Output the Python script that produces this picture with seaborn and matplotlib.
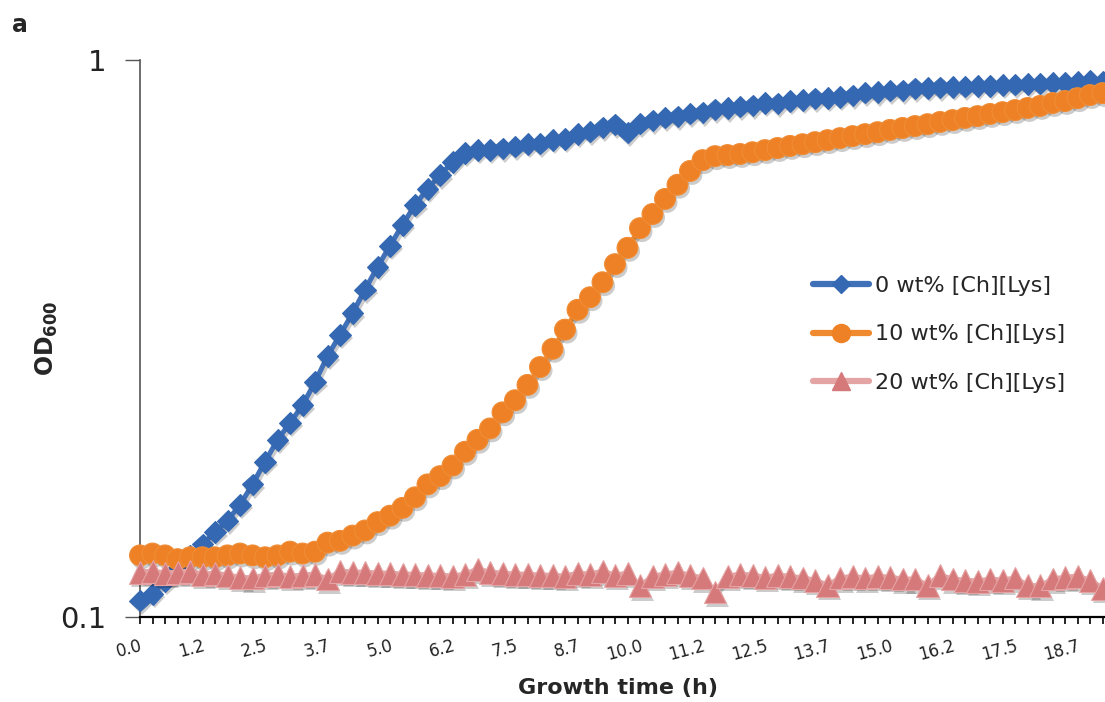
import numpy as np
import pandas as pd
import matplotlib
matplotlib.use("Agg")
import matplotlib.pyplot as plt
import matplotlib.patheffects as pe
from matplotlib.lines import Line2D
from matplotlib.ticker import FixedLocator, MultipleLocator, NullLocator
import seaborn as sns

# Sampling every 15 min over the growth run
time_h = np.arange(78) * 0.25

od_0wt = [0.107, 0.110, 0.116, 0.122, 0.129, 0.135, 0.142, 0.149, 0.159, 0.173,
          0.190, 0.208, 0.223, 0.240, 0.264, 0.294, 0.321, 0.351, 0.387, 0.425,
          0.464, 0.506, 0.549, 0.587, 0.621, 0.656, 0.681, 0.689,
          0.690, 0.694, 0.699, 0.706, 0.708, 0.719, 0.722, 0.737, 0.744, 0.757,
          0.766, 0.741, 0.769, 0.779, 0.788, 0.792, 0.801, 0.805, 0.815, 0.819,
          0.825, 0.829, 0.838, 0.836, 0.845, 0.847, 0.853, 0.854, 0.859, 0.864,
          0.874, 0.875, 0.881, 0.882, 0.889, 0.890, 0.893, 0.894, 0.896, 0.898,
          0.899, 0.901, 0.903, 0.905, 0.907, 0.909, 0.911, 0.914, 0.918, 0.913]

od_10wt = [0.129, 0.130, 0.129, 0.127, 0.128, 0.128, 0.128, 0.129, 0.130, 0.129,
           0.128, 0.129, 0.131, 0.130, 0.131, 0.136, 0.137, 0.140, 0.143, 0.148,
           0.152, 0.157, 0.164, 0.173, 0.179, 0.187, 0.198, 0.208, 0.218, 0.233,
           0.245, 0.261, 0.281, 0.303, 0.328, 0.356, 0.375, 0.399, 0.430, 0.460,
           0.499, 0.529, 0.563, 0.597, 0.632, 0.661, 0.672, 0.675,
           0.678, 0.683, 0.689, 0.695, 0.701, 0.706, 0.712, 0.718, 0.724, 0.730,
           0.736, 0.742, 0.749, 0.755, 0.761, 0.767, 0.774, 0.780, 0.787, 0.793,
           0.800, 0.806, 0.813, 0.820, 0.827, 0.837, 0.844, 0.854, 0.865, 0.872]

od_20wt = [0.1204, 0.1209, 0.1199, 0.1204, 0.1209, 0.1194, 0.1199, 0.1189, 0.1179, 0.1175,
           0.1189, 0.1194, 0.1184, 0.1189, 0.1194, 0.1170, 0.1209, 0.1204, 0.1204, 0.1199,
           0.1199, 0.1194, 0.1194, 0.1189, 0.1189, 0.1184, 0.1194, 0.1219, 0.1204, 0.1199,
           0.1194, 0.1194, 0.1189, 0.1189, 0.1184, 0.1199, 0.1194, 0.1209, 0.1189, 0.1199,
           0.1137, 0.1184, 0.1194, 0.1204, 0.1189, 0.1175, 0.1109, 0.1184, 0.1194, 0.1189,
           0.1179, 0.1189, 0.1184, 0.1175, 0.1165, 0.1141, 0.1175, 0.1184, 0.1175, 0.1184,
           0.1179, 0.1170, 0.1170, 0.1141, 0.1189, 0.1170, 0.1165, 0.1160, 0.1170, 0.1165,
           0.1175, 0.1141, 0.1137, 0.1170, 0.1179, 0.1184, 0.1165, 0.1127]

series_names = ["0 wt% [Ch][Lys]", "10 wt% [Ch][Lys]", "20 wt% [Ch][Lys]"]
tick_labels = ["0.0", "1.2", "2.5", "3.7", "5.0", "6.2", "7.5", "8.7",
               "10.0", "11.2", "12.5", "13.7", "15.0", "16.2", "17.5", "18.7"]

df = pd.DataFrame({
    "time": np.tile(time_h, 3),
    "od": od_0wt + od_10wt + od_20wt,
    "series": np.repeat(series_names, len(time_h)),
})

styles = {
    series_names[0]: dict(line="#3f70b8", face="#3568b2", edge="#3568b2", marker="D", ms=11.0, lg=9.0),
    series_names[1]: dict(line="#ef8a2e", face="#ee8125", edge="#f08d36", marker="o", ms=15.0, lg=13.0),
    series_names[2]: dict(line="#e4a4a4", face="#d5797b", edge="#e6a3a3", marker="^", ms=16.5, lg=13.5),
}

sns.set_theme(style="ticks")
plt.rcParams["font.family"] = ["DejaVu Sans"]
plt.rcParams["mathtext.fontset"] = "dejavusans"

fig = plt.figure(figsize=(11.05, 7.02), dpi=100)
ax = fig.add_axes([140 / 1105, 85 / 702, 965 / 1105, 557 / 702])

line_shadow = [pe.SimpleLineShadow(offset=(1.5, -2), shadow_color="k", alpha=0.22), pe.Normal()]
mark_shadow = [pe.SimplePatchShadow(offset=(1.5, -2.5), shadow_rgbFace="k", alpha=0.22), pe.Normal()]

for k, name in enumerate(series_names):
    st = styles[name]
    sub = df[df["series"] == name]
    sns.lineplot(data=sub, x="time", y="od", ax=ax, color=st["line"], lw=3.6,
                 estimator=None, sort=False, legend=False, zorder=2 + 2 * k,
                 path_effects=line_shadow)
    sns.lineplot(data=sub, x="time", y="od", ax=ax, color=st["face"], linestyle="",
                 marker=st["marker"], markersize=st["ms"], markerfacecolor=st["face"],
                 markeredgecolor=st["edge"], markeredgewidth=0.8,
                 estimator=None, sort=False, legend=False, zorder=3 + 2 * k,
                 path_effects=mark_shadow)

for ln in ax.get_lines():
    ln.set_clip_on(False)

ax.set_yscale("log")
ax.set_ylim(0.1, 1)
ax.set_xlim(0, 19.3)

ax.yaxis.set_major_locator(FixedLocator([0.1, 1]))
ax.yaxis.set_minor_locator(NullLocator())
ax.set_yticklabels(["0.1", "1"])
ax.xaxis.set_major_locator(FixedLocator(time_h[::5][:len(tick_labels)]))
ax.xaxis.set_minor_locator(MultipleLocator(0.25))
ax.set_xticklabels(tick_labels, rotation=15, ha="right", va="top", rotation_mode="anchor",
                   fontsize=12, color="#222222")

ax.tick_params(axis="x", which="both", direction="out", length=5, width=1.2, color="black", pad=9)
ax.tick_params(axis="y", which="major", direction="out", length=11, width=1.0,
               color="#555555", labelsize=21, pad=13, labelcolor="#222222")

for side in ("top", "right"):
    ax.spines[side].set_visible(False)
ax.spines["left"].set_color("#555555")
ax.spines["left"].set_linewidth(1.2)
ax.spines["bottom"].set_color("black")
ax.spines["bottom"].set_linewidth(1.6)

ax.set_xlabel("Growth time (h)", fontsize=16, fontweight="bold")
ax.xaxis.set_label_coords(0.495, -0.11)
ax.set_ylabel(r"$\mathbf{OD}_{\mathbf{600}}$", fontsize=17)
ax.yaxis.set_label_coords(-0.083, 0.5)

handles = [Line2D([], [], color=styles[n]["line"], lw=4.5, marker=styles[n]["marker"],
                  markersize=styles[n]["lg"], markerfacecolor=styles[n]["face"],
                  markeredgecolor=styles[n]["face"]) for n in series_names]
fig.legend(handles, series_names, loc="upper left", bbox_to_anchor=(813 / 1105, 1 - 276 / 702),
           frameon=False, fontsize=16, handlelength=2.5, handletextpad=0.3,
           labelspacing=1.28, borderpad=0, borderaxespad=0, numpoints=1)

fig.text(12 / 1105, 1 - 32 / 702, "a", fontsize=17, fontweight="bold", va="baseline")

fig.savefig("out.png", dpi=100, facecolor="white")
